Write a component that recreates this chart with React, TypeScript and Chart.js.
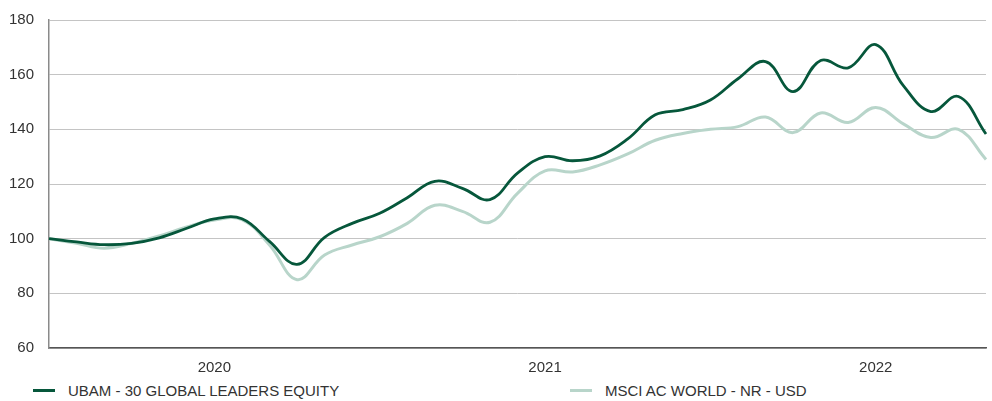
import React, { useEffect, useRef } from "react";
import { Chart, registerables } from "chart.js";

Chart.register(...registerables);

const xLabels = [
  "", "", "", "", "", "", "2020", "", "", "", "", "", "",
  "", "", "", "", "", "2021", "", "", "", "", "", "",
  "", "", "", "", "", "2022", "", "", "", "",
];

const fundName = "UBAM - 30 GLOBAL LEADERS EQUITY";
const indexName = "MSCI AC WORLD - NR - USD";

const fundValues = [
  100, 98.8, 97.8, 98.3, 100.3, 103.8, 107.2, 107.3, 99, 90.6, 100.5, 105.6,
  109.3, 115, 121, 118.4, 114.3, 124, 130, 128.5, 130.3, 136.5, 145.3, 147.2,
  150.7, 158.5, 164.8, 153.8, 165.2, 162.5, 171, 156, 146.5, 152, 138.3,
];

const indexValues = [
  100, 98.3, 96.5, 98.3, 101, 104.3, 106.8, 107, 97.7, 85, 94, 97.7,
  100.7, 105.6, 112.2, 110, 106, 116.6, 124.8, 124.4, 127, 131, 136, 138.5,
  140, 141, 144.5, 138.8, 146, 142.5, 148, 142, 137, 140, 129,
];

const yTicks = [60, 80, 100, 120, 140, 160, 180];

const DARK = "#06573b";
const LIGHT = "#b8d5ca";
const FONT = "'Liberation Sans', Arial, sans-serif";

export default function App() {
  const ref = useRef<HTMLCanvasElement | null>(null);

  useEffect(() => {
    document.body.style.margin = "0";
    const ctx = ref.current!.getContext("2d")!;
    const chart = new Chart(ctx, {
      type: "line",
      data: {
        labels: xLabels,
        datasets: [
          {
            label: fundName,
            data: fundValues,
            borderColor: DARK,
            borderWidth: 2.8,
            pointRadius: 0,
            tension: 0.4,
            fill: false,
          },
          {
            label: indexName,
            data: indexValues,
            borderColor: LIGHT,
            borderWidth: 3,
            pointRadius: 0,
            tension: 0.4,
            fill: false,
          },
        ],
      },
      options: {
        animation: false,
        responsive: false,
        layout: { padding: { top: 20, right: 6, left: 0, bottom: 0 } },
        plugins: { legend: { display: false }, tooltip: { enabled: false } },
        scales: {
          x: {
            offset: false,
            grid: { display: false, drawTicks: false },
            border: { display: true, color: "#555555", width: 1.5 },
            ticks: {
              autoSkip: false,
              maxRotation: 0,
              padding: 11,
              color: "#333333",
              font: { family: FONT, size: 15 },
            },
            afterFit: (s: any) => {
              s.height = 32;
              s.paddingLeft = 0;
              s.paddingRight = 0;
            },
          },
          y: {
            min: 60,
            max: 180,
            afterBuildTicks: (s: any) => {
              s.ticks = yTicks.map((v) => ({ value: v }));
            },
            grid: { color: "#c4c4c4", lineWidth: 1, drawTicks: false },
            border: { display: true, color: "#8a8a8a", width: 1.5 },
            ticks: {
              padding: 15,
              color: "#333333",
              font: { family: FONT, size: 15 },
            },
            afterFit: (s: any) => {
              s.width = 49;
              s.paddingTop = 0;
              s.paddingBottom = 0;
            },
          },
        },
      },
    });
    return () => chart.destroy();
  }, []);

  const itemStyle: React.CSSProperties = {
    position: "absolute",
    top: 381,
    display: "flex",
    alignItems: "center",
    fontFamily: FONT,
    fontSize: 15,
    color: "#333333",
    whiteSpace: "nowrap",
    height: 18,
  };

  return (
    <div style={{ position: "relative", width: 992, height: 401, background: "#fff" }}>
      <canvas ref={ref} width={992} height={380} style={{ display: "block" }} />
      <div style={{ ...itemStyle, left: 33 }}>
        <span style={{ display: "inline-block", width: 22, height: 3, background: DARK, marginRight: 13 }} />
        <span>{fundName}</span>
      </div>
      <div style={{ ...itemStyle, left: 570 }}>
        <span style={{ display: "inline-block", width: 22, height: 3, background: LIGHT, marginRight: 13 }} />
        <span>{indexName}</span>
      </div>
    </div>
  );
}
